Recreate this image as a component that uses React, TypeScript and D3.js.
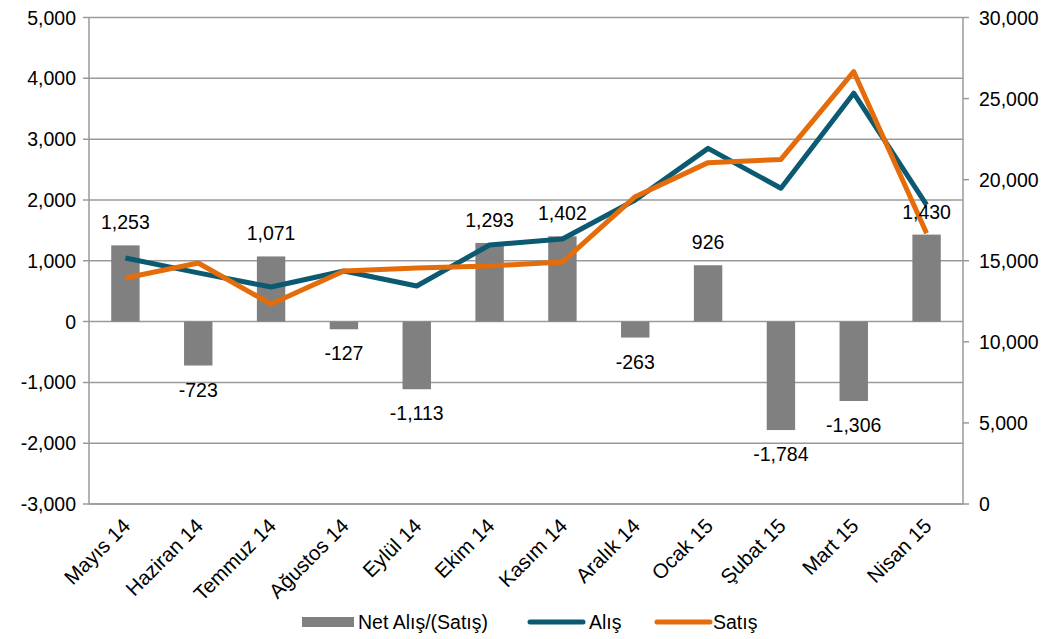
import React from 'react';
import * as d3 from 'd3';

// months on the x axis
const months = ['Mayıs 14', 'Haziran 14', 'Temmuz 14', 'Ağustos 14', 'Eylül 14', 'Ekim 14', 'Kasım 14', 'Aralık 14', 'Ocak 15', 'Şubat 15', 'Mart 15', 'Nisan 15'];
// net buy/(sell), left axis
const net = [1253, -723, 1071, -127, -1113, 1293, 1402, -263, 926, -1784, -1306, 1430];
// purchases and sales, right axis
const alis = [15170, 14250, 13380, 14370, 13440, 15970, 16340, 18750, 21930, 19470, 25330, 18440];
const satis = [13940, 14860, 12330, 14370, 14550, 14680, 14920, 18950, 21050, 21250, 26660, 16690];
const leftTicks = [-3000, -2000, -1000, 0, 1000, 2000, 3000, 4000, 5000];
const rightTicks = [0, 5000, 10000, 15000, 20000, 25000, 30000];

const W = 1051, H = 639;
const left = 89, right = 963, top = 17.5, bottom = 504;
const font = 'Liberation Sans, Arial, sans-serif';
const grid = '#9a9a9a';
const teal = '#0b5a72';
const orange = '#e46c0a';
// plain hyphen for negatives, like the original
const fmt = (v: number) => d3.format(',')(v).replace('−', '-');

export default function App() {
  const x = d3.scaleBand<string>().domain(months).range([left, right]);
  const yL = d3.scaleLinear().domain([-3000, 5000]).range([bottom, top]);
  const yR = d3.scaleLinear().domain([0, 30000]).range([bottom, top]);
  const cx = (i: number) => (x(months[i]) as number) + x.bandwidth() / 2;
  const barW = x.bandwidth() * 0.39;

  const line = (vals: number[]) => d3.line<number>().x((_, i) => cx(i)).y(d => yR(d))(vals) || '';

  return (
    <svg width={W} height={H} style={{ position: 'absolute', left: 0, top: 0, background: '#fff' }} fontFamily={font}>
      {/* gridlines + left ticks */}
      {leftTicks.map(t => (
        <g key={t}>
          <line x1={left - 6} x2={right} y1={yL(t)} y2={yL(t)} stroke={grid} strokeWidth={1.5} />
          <text x={left - 13} y={yL(t)} dy="0.36em" textAnchor="end" fontSize={19.5}>{fmt(t)}</text>
        </g>
      ))}
      {/* right ticks */}
      {rightTicks.map(t => (
        <g key={t}>
          <line x1={right} x2={right + 6} y1={yR(t)} y2={yR(t)} stroke={grid} strokeWidth={1.5} />
          <text x={right + 16} y={yR(t)} dy="0.36em" textAnchor="start" fontSize={19.5}>{fmt(t)}</text>
        </g>
      ))}
      <line x1={left} x2={left} y1={top} y2={bottom} stroke={grid} strokeWidth={1.5} />
      <line x1={right} x2={right} y1={top} y2={bottom} stroke={grid} strokeWidth={1.5} />
      <line x1={left} x2={right} y1={bottom} y2={bottom} stroke={grid} strokeWidth={1.5} />

      {/* bars */}
      {net.map((v, i) => (
        <rect key={i} x={cx(i) - barW / 2} width={barW} y={Math.min(yL(v), yL(0))} height={Math.abs(yL(v) - yL(0))} fill="#808080" />
      ))}

      {/* lines */}
      <path d={line(alis)} fill="none" stroke={teal} strokeWidth={5} strokeLinejoin="round" />
      <path d={line(satis)} fill="none" stroke={orange} strokeWidth={5} strokeLinejoin="round" />

      {/* data labels */}
      {net.map((v, i) => (
        <text key={i} x={cx(i)} y={v >= 0 ? yL(v) - 16 : yL(v) + 31} textAnchor="middle" fontSize={19.5}>{fmt(v)}</text>
      ))}

      {/* x labels */}
      {months.map((m, i) => (
        <text key={m} transform={`translate(${cx(i) - 4},${bottom + 13}) rotate(-45)`} textAnchor="end" dy="0.7em" fontSize={20.5}>{m}</text>
      ))}

      {/* legend */}
      <g fontSize={19.5}>
        <rect x={302} y={617} width={52} height={10} fill="#808080" />
        <text x={358} y={622} dy="0.36em">Net Alış/(Satış)</text>
        <line x1={530} x2={583} y1={622} y2={622} stroke={teal} strokeWidth={5} strokeLinecap="round" />
        <text x={589} y={622} dy="0.36em">Alış</text>
        <line x1={657} x2={710} y1={622} y2={622} stroke={orange} strokeWidth={5} strokeLinecap="round" />
        <text x={713} y={622} dy="0.36em">Satış</text>
      </g>
    </svg>
  );
}
